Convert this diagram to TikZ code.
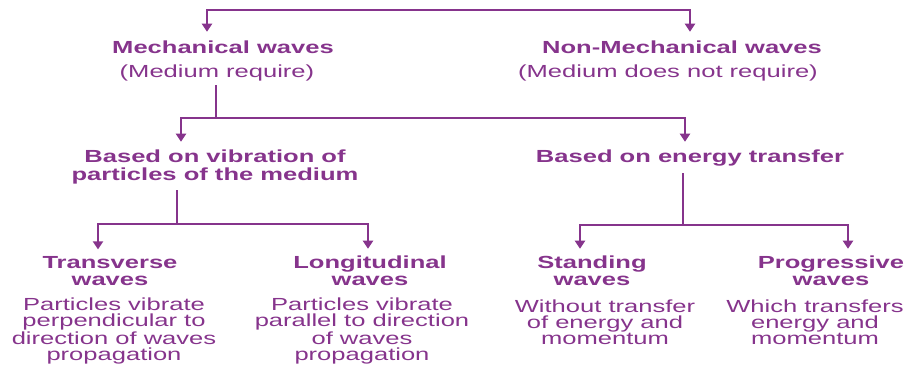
\documentclass[tikz,border=0pt]{standalone}
\usepackage{fontspec}
\setmainfont{Liberation Sans}[FakeStretch=1.46]
\usetikzlibrary{arrows.meta}
\definecolor{wpurple}{RGB}{134,52,140}
\begin{document}
\begin{tikzpicture}[x=1pt,y=-1pt,
  every node/.style={inner sep=0pt,outer sep=0pt,text=wpurple,align=center,anchor=base},
  head/.style={font=\fontsize{17.5}{17}\selectfont\bfseries},
  headtwo/.style={font=\fontsize{17.5}{18}\selectfont\bfseries},
  desc/.style={font=\fontsize{17.5}{16}\selectfont},
  conn/.style={draw=wpurple,line width=2pt},
  hline/.style={conn,line cap=rect},
  arr/.style={conn,-{Triangle[width=10pt,length=8pt]}}]
\useasboundingbox (0,0) rectangle (906,368);

% level 1 (base anchor = baseline of last line)
\node[head] (mech) at (223,53) {Mechanical waves};
\node[desc] (mechsub) at (217,77) {(Medium require)};
\node[head] (nonmech) at (682,53) {Non-Mechanical waves};
\node[desc] (nonmechsub) at (668,77) {(Medium does not require)};

% level 2
\node[headtwo] (vib) at (215,180) {Based on vibration of\\particles of the medium};
\node[headtwo] (energy) at (690,162) {Based on energy transfer};

% level 3
\node[head] (trans) at (110,285) {Transverse\\waves};
\node[head] (long) at (370,285) {Longitudinal\\waves};
\node[head] (stand) at (592,285) {Standing\\waves};
\node[head] (prog) at (831,285) {Progressive\\waves};

\node[desc] (transd) at (114,360) {Particles vibrate\\perpendicular to\\direction of waves\\propagation};
\node[desc] (longd) at (362,360) {Particles vibrate\\parallel to direction\\of waves\\propagation};
\node[desc] (standd) at (605,344) {Without transfer\\of energy and\\momentum};
\node[desc] (progd) at (815,344) {Which transfers\\energy and\\momentum};

% top connector
\coordinate (t1) at (207,10);
\coordinate (t2) at (690,10);
\draw[hline] (t1) -- (t2);
\draw[arr,shorten >=8.6pt] (t1) -- (t1 |- mech.north);
\draw[arr,shorten >=8.6pt] (t2) -- (t2 |- nonmech.north);

% mechanical -> level 2
\coordinate (j1) at (216,118);
\coordinate (j1L) at (181,118);
\coordinate (j1R) at (685,118);
\draw[conn,shorten <=4.4pt] (j1 |- mechsub.south) -- (j1);
\draw[hline] (j1L) -- (j1R);
\draw[arr,shorten >=7.6pt] (j1L) -- (j1L |- vib.north);
\draw[arr,shorten >=7.6pt] (j1R) -- (j1R |- energy.north);

% vibration -> transverse / longitudinal
\coordinate (j2) at (177,224);
\coordinate (j2L) at (98,224);
\coordinate (j2R) at (368,224);
\draw[conn,shorten <=6.4pt] (j2 |- vib.south) -- (j2);
\draw[hline] (j2L) -- (j2R);
\draw[arr,shorten >=6.6pt] (j2L) -- (j2L |- trans.north);
\draw[arr,shorten >=6.6pt] (j2R) -- (j2R |- long.north);

% energy -> standing / progressive
\coordinate (j3) at (683,225);
\coordinate (j3L) at (580,225);
\coordinate (j3R) at (848,225);
\draw[conn,shorten <=7.4pt] (j3 |- energy.south) -- (j3);
\draw[hline] (j3L) -- (j3R);
\draw[arr,shorten >=6.6pt] (j3L) -- (j3L |- stand.north);
\draw[arr,shorten >=6.6pt] (j3R) -- (j3R |- prog.north);
\end{tikzpicture}
\end{document}
